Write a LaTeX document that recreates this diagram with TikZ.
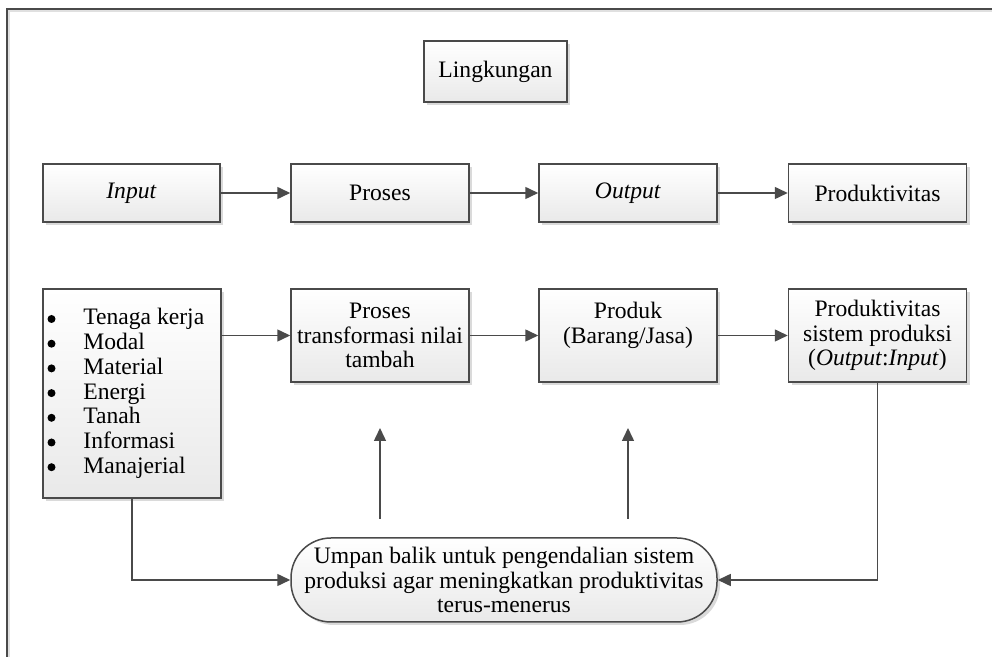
\documentclass[tikz,border=0pt]{standalone}
\usepackage{fontspec}
\setmainfont{Liberation Serif}[
  UprightFont = Liberation Serif,
  ItalicFont = Liberation Serif Italic,
  BoldFont = Liberation Serif Bold,
  BoldItalicFont = Liberation Serif Bold Italic]
\usetikzlibrary{arrows.meta,shadows,positioning}
\definecolor{edge}{HTML}{4A4A4A}
\definecolor{boxbot}{HTML}{E9E9E9}
\tikzset{
  boxstyle/.style={draw=edge, line width=0.75pt, top color=white, bottom color=boxbot,
    drop shadow={shadow xshift=1.5pt, shadow yshift=-1.5pt, fill=black!18, opacity=0.8},
    align=center, inner sep=0pt, font=\fontsize{11.8}{12.4}\selectfont},
  itemtext/.style={anchor=base west, inner sep=0pt, font=\fontsize{11.8}{12.4}\selectfont},
  conn/.style={draw=edge, line width=0.75pt, -{Triangle[length=6.5pt,width=6pt]}},
}
\begin{document}
\begin{tikzpicture}[x=0.5pt,y=-0.5pt]
\useasboundingbox (0,0) rectangle (992,657);
% outer frame
\draw[black!12, line width=0.6pt] (9,657) -- (9,11) -- (992,11);
\draw[edge, line width=0.6pt] (7,657) -- (7,9) -- (992,9);

% environment box
\node[boxstyle, minimum width=71.5pt, minimum height=30.5pt] (env) at (495.5,71.5) {Lingkungan};

% first row
\node[boxstyle, minimum width=88.5pt, minimum height=29pt] (in)  at (131.5,193) {\textit{Input}};
\node[boxstyle, minimum width=89pt, minimum height=29pt] (pr)  at (380,193) {Proses};
\node[boxstyle, minimum width=89pt, minimum height=29pt] (out) at (628,193) {\textit{Output}};
\node[boxstyle, minimum width=89pt, minimum height=29pt] (prod) at (877.5,193) {Produktivitas};

\draw[conn] (in) -- (pr);
\draw[conn] (pr) -- (out);
\draw[conn] (out) -- (prod);

% second row: resources with a bulleted list
\node[boxstyle, minimum width=89pt, minimum height=104.5pt] (res) at (132,393.5) {};
\foreach \t [count=\i from 0] in {Tenaga kerja, Modal, Material, Energi, Tanah, Informasi, Manajerial} {
  \fill[black] (51.5,{319+24.7*\i}) circle (2pt);
  \node[itemtext] (item\i) at (83,{325+24.7*\i}) {\t};
}
\node[boxstyle, minimum width=89pt, minimum height=46.5pt] (trans) at (380,335.5) {Proses\\transformasi nilai\\tambah};
\node[boxstyle, minimum width=89pt, minimum height=46.5pt] (goods) at (628,335.5) {Produk\\(Barang/Jasa)\\\mbox{}};
\node[boxstyle, minimum width=89pt, minimum height=46.5pt] (sysprod) at (877.5,335.5) {Produktivitas\\sistem produksi\\(\textit{Output}:\textit{Input})};

\draw[conn] (res.east |- trans) -- (trans);
\draw[conn] (trans) -- (goods);
\draw[conn] (goods) -- (sysprod);

% feedback loop
\node[boxstyle, rounded corners=20pt, minimum width=213pt, minimum height=42pt] (fb) at (504,580)
  {Umpan balik untuk pengendalian sistem\\produksi agar meningkatkan produktivitas\\terus-menerus};

\coordinate (up1) at (380,519);
\coordinate (up1t) at (380,428);
\coordinate (up2) at (628,519);
\coordinate (up2t) at (628,428);
\draw[conn] (up1) -- (up1t);
\draw[conn] (up2) -- (up2t);

\draw[conn] (res.south) |- (fb.west);
\draw[conn] (sysprod.south) |- (fb.east);
\end{tikzpicture}
\end{document}
